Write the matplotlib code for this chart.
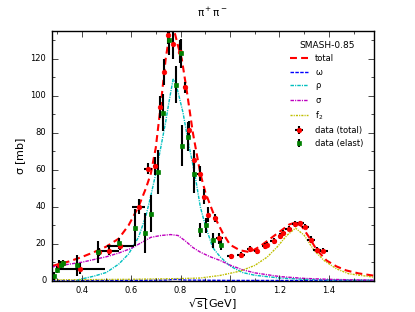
import numpy as np
import matplotlib
matplotlib.use('Agg')
import matplotlib.pyplot as plt

plt.style.use('classic')
plt.rcParams['mathtext.fontset'] = 'dejavusans'
plt.rcParams['mathtext.default'] = 'regular'
plt.rcParams['lines.scale_dashes'] = False

# model curves
x_tot = [0.28, 0.35, 0.40, 0.45, 0.50, 0.55, 0.59, 0.63, 0.66, 0.68, 0.70, 0.72, 0.74, 0.755, 0.765,
         0.775, 0.79, 0.805, 0.825, 0.85, 0.88, 0.90, 0.94, 0.97, 1.00, 1.04, 1.08, 1.12, 1.16,
         1.20, 1.24, 1.265, 1.29, 1.32, 1.35, 1.39, 1.43, 1.47, 1.52, 1.58]
y_tot = [8.0, 10.5, 12.8, 15.5, 18.5, 22.8, 30, 40, 50, 58, 72, 95, 120, 133, 137,
         135, 127, 120, 103, 80, 58, 48, 34, 26, 19.5, 16.5, 15.5, 18.5, 22.5,
         26.5, 30.5, 31.5, 29.5, 23.5, 16.8, 11, 7.8, 5.6, 4.0, 2.8]

x_omega = [0.28, 0.60, 0.74, 0.78, 0.82, 1.00, 1.58]
y_omega = [0.1, 0.2, 0.4, 0.8, 0.4, 0.2, 0.1]

x_rho = [0.38, 0.40, 0.45, 0.50, 0.55, 0.59, 0.63, 0.66, 0.68, 0.70, 0.72, 0.74, 0.755, 0.77,
         0.78, 0.79, 0.81, 0.83, 0.86, 0.88, 0.90, 0.93, 0.96, 1.00, 1.05, 1.10, 1.20, 1.30,
         1.40, 1.58]
y_rho = [0.3, 1.0, 2.5, 4.5, 9, 14.5, 23.5, 35, 46, 58, 72, 86, 98, 109,
         107, 102, 91, 76, 56, 40, 30, 18, 13, 8, 4.5, 3, 1.5, 0.8,
         0.5, 0.3]

x_sigma = [0.28, 0.35, 0.40, 0.45, 0.50, 0.55, 0.60, 0.64, 0.68, 0.72, 0.76, 0.79, 0.82, 0.85,
           0.88, 0.92, 0.96, 1.00, 1.05, 1.10, 1.20, 1.30, 1.40, 1.50, 1.58]
y_sigma = [7.5, 9, 10, 11.5, 13, 15, 17.5, 20.5, 23.5, 24.5, 25, 24.5, 21.5, 18,
           15.5, 13, 11, 8.5, 6, 4.3, 2.3, 1.3, 0.8, 0.5, 0.4]

x_f2 = [0.28, 0.60, 0.80, 0.88, 0.96, 1.04, 1.10, 1.15, 1.19, 1.23, 1.265, 1.30, 1.34,
        1.38, 1.43, 1.48, 1.58]
y_f2 = [0.5, 0.8, 1.2, 1.5, 2.9, 5.2, 8.3, 12.8, 18.2, 24.6, 28.5, 24.6, 16.4,
        11, 6.5, 3.8, 2.0]

# data (total)
dt_x = [0.31, 0.325, 0.395, 0.47, 0.51, 0.557, 0.631, 0.668, 0.695, 0.717, 0.735, 0.751, 0.771,
        0.797, 0.817, 0.835, 0.855, 0.877, 0.895, 0.913, 0.94, 0.957, 1.003, 1.044, 1.079,
        1.108, 1.14, 1.148, 1.176, 1.203, 1.216, 1.237, 1.264, 1.283, 1.304, 1.327, 1.352, 1.375]
dt_y = [8.5, 9.5, 6.5, 15.5, 16.1, 18.6, 40, 60.5, 62, 93.8, 113, 133, 128,
        124, 104.7, 81.5, 65.6, 58, 45.5, 35.8, 34, 23.1, 13.2, 14.1, 17.3,
        15.9, 18.7, 19.5, 21.4, 24.3, 26, 28.2, 30.7, 31, 29.3, 22.2, 16.8, 16.3]
dt_xerr = [0.005, 0.005, 0.1, 0.01, 0.043, 0.055, 0.027, 0.015, 0.008, 0.005, 0.005, 0.005, 0.005,
           0.005, 0.008, 0.005, 0.005, 0.01, 0.008, 0.008, 0.01, 0.015, 0.015, 0.015, 0.01,
           0.01, 0.01, 0.01, 0.015, 0.01, 0.01, 0.015, 0.015, 0.015, 0.015, 0.015, 0.015, 0.02]
dt_yerr = [2.5, 2, 3, 2, 2, 2, 4, 3, 5, 6, 7, 5, 8,
           6, 3, 5, 5, 4, 4, 4, 2, 3, 1.5, 1.5, 1.5,
           1.5, 1.5, 1.5, 1.5, 1.5, 1.5, 1.5, 1.5, 1.5, 1.5, 2, 1.5, 1.5]

# data (elast)
de_x = [0.29, 0.30, 0.315, 0.325, 0.38, 0.465, 0.551, 0.617, 0.657, 0.68, 0.707, 0.731, 0.755,
        0.781, 0.801, 0.807, 0.831, 0.855, 0.88, 0.904, 0.931, 0.963]
de_y = [2.5, 6, 8.5, 9.5, 8.3, 15.5, 20.4, 28.7, 25.8, 36.3, 59, 90.9, 130,
        106, 123, 73, 78, 57.6, 27.5, 30, 22, 19.5]
de_yerr = [2, 2, 2, 2, 5.5, 6, 3, 10, 11, 10, 12, 10, 8,
           10, 8, 11, 8, 10, 4, 4, 4, 3]

fig = plt.figure(figsize=(4.15, 3.12), dpi=100)
ax = fig.add_subplot(111)

ax.plot(x_tot, y_tot, 'r--', lw=1.5, dashes=(5, 3), label='total')
ax.plot(x_omega, y_omega, 'b--', lw=1.0, dashes=(2.5, 1), label=r'$\omega$')
ax.plot(x_rho, y_rho, 'c-.', lw=1.0, dashes=(2.5, 0.8, 0.8, 0.8), label=r'$\rho$')
ax.plot(x_sigma, y_sigma, 'm-.', lw=1.0, dashes=(2.5, 0.8, 0.8, 0.8), label=r'$\sigma$')
ax.plot(x_f2, y_f2, 'y-.', lw=1.0, dashes=(1.5, 0.8, 0.8, 0.8), label=r'f$_2$')

ax.errorbar(dt_x, dt_y, xerr=dt_xerr, yerr=dt_yerr, fmt='o', color='r', ecolor='k',
            elinewidth=1.5, capsize=0, ms=3.3, mec='r', label='data (total)')
ax.errorbar(de_x, de_y, yerr=de_yerr, fmt='s', color='g', ecolor='k',
            elinewidth=1.5, capsize=0, ms=2.8, mec='g', label='data (elast)')

ax.set_xlim(0.28, 1.58)
ax.set_ylim(0, 135)
ax.set_xticks([0.4, 0.6, 0.8, 1.0, 1.2, 1.4])
ax.set_yticks([0, 20, 40, 60, 80, 100, 120])
ax.set_xticks(np.arange(0.3, 1.6, 0.1), minor=True)
ax.set_yticks(np.arange(10, 135, 10), minor=True)
ax.tick_params(which='major', length=4, labelsize=6)
ax.tick_params(which='minor', length=2)

ax.set_xlabel(r'$\sqrt{s}$[GeV]', fontsize=8, labelpad=1)
ax.set_ylabel(r'$\sigma$ [mb]', fontsize=8, labelpad=2)
ax.set_title(r'$\pi^+\pi^-$', fontsize=7.5, y=1.03)

leg = ax.legend(loc='upper right', numpoints=1, frameon=False, fontsize=6,
                title='SMASH-0.85', handlelength=2.2, labelspacing=0.5,
                borderaxespad=0.8)
leg.get_title().set_fontsize(6.5)

fig.savefig('out.png', dpi=100)
